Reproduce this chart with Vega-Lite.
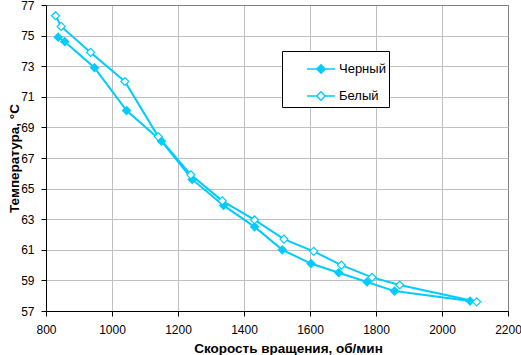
{
  "$schema": "https://vega.github.io/schema/vega-lite/v6.json",
  "width": 462,
  "height": 306,
  "autosize": {"type": "none"},
  "padding": {"left": 46, "top": 5, "right": 13, "bottom": 44},
  "background": "white",
  "config": {
    "font": "Liberation Sans",
    "view": {"stroke": "#808080", "strokeWidth": 1},
    "axis": {
      "labelFont": "Liberation Sans",
      "labelFontSize": 12,
      "labelColor": "black",
      "labelFlush": false,
      "titleFont": "Liberation Sans",
      "titleFontSize": 13.5,
      "titleFontWeight": "bold",
      "titleColor": "black",
      "domainColor": "black",
      "tickColor": "black",
      "tickSize": 5,
      "gridOpacity": 1
    }
  },
  "data": {
    "values": [
      {"series": "Черный", "rpm": 837, "temp": 74.9},
      {"series": "Черный", "rpm": 857, "temp": 74.6},
      {"series": "Черный", "rpm": 947, "temp": 72.9},
      {"series": "Черный", "rpm": 1044, "temp": 70.1},
      {"series": "Черный", "rpm": 1150, "temp": 68.1},
      {"series": "Черный", "rpm": 1243, "temp": 65.6},
      {"series": "Черный", "rpm": 1338, "temp": 63.9},
      {"series": "Черный", "rpm": 1432, "temp": 62.5},
      {"series": "Черный", "rpm": 1516, "temp": 61.0},
      {"series": "Черный", "rpm": 1603, "temp": 60.1},
      {"series": "Черный", "rpm": 1687, "temp": 59.5},
      {"series": "Черный", "rpm": 1773, "temp": 58.9},
      {"series": "Черный", "rpm": 1856, "temp": 58.3},
      {"series": "Черный", "rpm": 2085, "temp": 57.65},
      {"series": "Белый", "rpm": 829, "temp": 76.3},
      {"series": "Белый", "rpm": 846, "temp": 75.6},
      {"series": "Белый", "rpm": 935, "temp": 73.9},
      {"series": "Белый", "rpm": 1039, "temp": 72.0},
      {"series": "Белый", "rpm": 1140, "temp": 68.4},
      {"series": "Белый", "rpm": 1239, "temp": 65.9},
      {"series": "Белый", "rpm": 1334, "temp": 64.2},
      {"series": "Белый", "rpm": 1432, "temp": 62.95},
      {"series": "Белый", "rpm": 1521, "temp": 61.7},
      {"series": "Белый", "rpm": 1611, "temp": 60.9},
      {"series": "Белый", "rpm": 1695, "temp": 60.0},
      {"series": "Белый", "rpm": 1788, "temp": 59.2},
      {"series": "Белый", "rpm": 1872, "temp": 58.7},
      {"series": "Белый", "rpm": 2105, "temp": 57.6}
    ]
  },
  "encoding": {
    "x": {
      "field": "rpm",
      "type": "quantitative",
      "scale": {"domain": [800, 2200], "nice": false, "zero": false},
      "axis": {
        "values": [800, 1000, 1200, 1400, 1600, 1800, 2000, 2200],
        "format": "d",
        "title": "Скорость вращения, об/мин",
        "labelPadding": 8,
        "titleX": 242,
        "titleY": 37,
        "titleBaseline": "middle",
        "titleAlign": "center",
        "gridColor": {"condition": {"test": "datum.value === 2200", "value": "#808080"}, "value": "#c0c0c0"}
      }
    },
    "y": {
      "field": "temp",
      "type": "quantitative",
      "scale": {"domain": [57, 77], "nice": false, "zero": false},
      "axis": {
        "values": [57, 59, 61, 63, 65, 67, 69, 71, 73, 75, 77],
        "title": "Температура, °С",
        "labelPadding": 7,
        "titleX": -32,
        "titleY": 153,
        "titleAngle": 270,
        "titleBaseline": "middle",
        "titleAlign": "center",
        "gridColor": {"condition": {"test": "datum.value === 77", "value": "#808080"}, "value": "#c0c0c0"}
      }
    }
  },
  "layer": [
    {
      "mark": {"type": "line", "color": "#00ccff", "strokeWidth": 2},
      "encoding": {"detail": {"field": "series", "type": "nominal"}}
    },
    {
      "mark": {"type": "point", "shape": "diamond", "filled": true, "stroke": "#00ccff", "strokeWidth": 1.2, "size": 64, "opacity": 1},
      "encoding": {
        "fill": {
          "field": "series",
          "type": "nominal",
          "scale": {"domain": ["Черный", "Белый"], "range": ["#00ccff", "#ffffff"]},
          "legend": {
            "title": null,
            "orient": "none",
            "legendX": 236,
            "legendY": 46,
            "padding": 3,
            "strokeColor": "black",
            "fillColor": "white",
            "symbolType": "M-1,0L-0.3,0M0.3,0L1,0M-0.3,0L0,-0.3L0.3,0L0,0.3Z",
            "symbolSize": 784,
            "symbolOffset": 21,
            "symbolStrokeWidth": 1.5,
            "symbolStrokeColor": "#00ccff",
            "labelOffset": 3,
            "labelFont": "Liberation Sans",
            "labelFontSize": 13,
            "labelColor": "black",
            "rowPadding": 4,
            "labelExpr": "datum.label + '\u00a0\u00a0\u00a0\u00a0\u00a0\u00a0'",
            "encode": {"symbols": {"update": {"stroke": {"value": "#00ccff"}, "strokeWidth": {"value": 1.5}, "opacity": {"value": 1}}}}
          }
        }
      }
    }
  ]
}
